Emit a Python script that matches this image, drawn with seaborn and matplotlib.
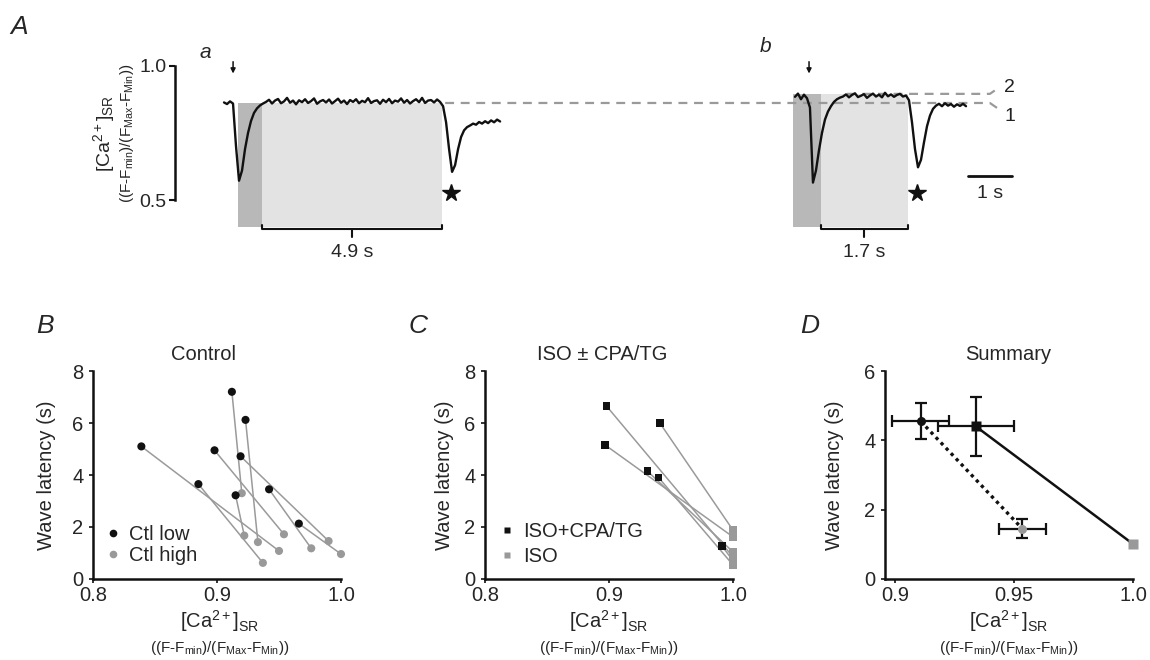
import numpy as np
import pandas as pd
import matplotlib
matplotlib.use("Agg")
import matplotlib.pyplot as plt
import seaborn as sns
from matplotlib.lines import Line2D
from matplotlib.patches import Rectangle

# ---------------- data ----------------
# Panel A: SR Ca traces (time in s, sampled every trace_dt s)
trace_dt = 0.0682
trace_a_t0 = 1.114
trace_a = [0.864, 0.858, 0.868, 0.860, 0.700, 0.572, 0.610, 0.690, 0.750, 0.795,
           0.825, 0.842, 0.853, 0.860,
           0.866, 0.874, 0.860, 0.871, 0.877, 0.861, 0.868, 0.881, 0.863, 0.871,
           0.857, 0.872, 0.865, 0.876, 0.862, 0.869, 0.879, 0.859, 0.868, 0.873,
           0.864, 0.875, 0.860, 0.869, 0.878, 0.863, 0.871, 0.858, 0.873, 0.866,
           0.876, 0.861, 0.870, 0.865, 0.880, 0.862, 0.869, 0.872, 0.859, 0.874,
           0.865, 0.877, 0.861, 0.871, 0.867, 0.879, 0.863, 0.873, 0.860, 0.869,
           0.876, 0.865, 0.881, 0.862, 0.871, 0.873, 0.864, 0.875, 0.866,
           0.850, 0.790, 0.690, 0.605, 0.630, 0.690, 0.735, 0.760, 0.772, 0.778,
           0.785, 0.781, 0.791, 0.785, 0.794, 0.787, 0.797, 0.790, 0.800, 0.793]
trace_b_t0 = 14.09
trace_b = [0.885, 0.897, 0.876, 0.893, 0.880, 0.845, 0.565, 0.610, 0.685, 0.750,
           0.800, 0.830, 0.850, 0.866, 0.876, 0.882,
           0.886, 0.894, 0.883, 0.892, 0.898, 0.884, 0.889, 0.895, 0.881, 0.890,
           0.897, 0.886, 0.893, 0.883, 0.900, 0.887, 0.894, 0.885, 0.892, 0.896,
           0.886, 0.890,
           0.872, 0.790, 0.690, 0.622, 0.650, 0.715, 0.775, 0.815, 0.840, 0.852,
           0.859, 0.850, 0.861, 0.852, 0.858, 0.848, 0.857, 0.851, 0.859, 0.850]
stim_times = [1.32, 14.41]
wave_times = [6.27, 16.86]
dark_spans = [(1.43, 1.98), (14.05, 14.68)]
light_spans = [(1.98, 6.07), (14.68, 16.66)]
span_tops = [0.862, 0.896]
span_bottom = 0.40
latency_labels = ["4.9 s", "1.7 s"]
ref_levels = [0.862, 0.896]
ref_starts = [6.14, 15.27]
ref_names = ["1", "2"]

# Panel B: control pairs
ctl_low_x = [0.839, 0.885, 0.898, 0.912, 0.923, 0.919, 0.915, 0.942, 0.966]
ctl_low_y = [5.10, 3.65, 4.95, 7.20, 6.12, 4.72, 3.22, 3.45, 2.13]
ctl_high_x = [0.950, 0.937, 0.954, 0.920, 0.933, 0.990, 0.922, 0.976, 1.000]
ctl_high_y = [1.08, 0.62, 1.72, 3.30, 1.42, 1.46, 1.67, 1.18, 0.96]

# Panel C: ISO pairs
cpa_x = [0.898, 0.897, 0.931, 0.940, 0.941, 0.991]
cpa_y = [6.65, 5.15, 4.15, 3.90, 6.00, 1.28]
iso_x = [1.000, 1.000, 1.000, 1.000, 1.000, 1.000]
iso_y = [0.85, 1.62, 1.04, 0.54, 1.88, 0.70]

# Panel D: summary (mean +/- SEM)
sum_names = ["Ctl low", "ISO+CPA/TG", "Ctl high", "ISO"]
sum_x = [0.9108, 0.934, 0.9535, 1.000]
sum_y = [4.55, 4.40, 1.45, 1.01]
sum_xerr = [0.0121, 0.0158, 0.0098, 0.0]
sum_yerr = [0.52, 0.86, 0.28, 0.0]

# ---------------- style ----------------
sns.set_theme(style="ticks")
plt.rcParams["font.family"] = ["Liberation Sans", "DejaVu Sans"]
plt.rcParams["mathtext.fontset"] = "custom"
plt.rcParams["mathtext.rm"] = "Liberation Sans"
plt.rcParams["mathtext.it"] = "Liberation Sans:italic"
plt.rcParams["mathtext.bf"] = "Liberation Sans:bold"

BLACK = "#111111"
GRAY = "#999999"
W, H = 1150, 660

fig = plt.figure(figsize=(W / 100, H / 100), dpi=100)


def rect(l, t, r, b):
    return [l / W, 1 - b / H, (r - l) / W, (b - t) / H]


def ftext(x, y, s, **kw):
    fig.text(x / W, 1 - y / H, s, **kw)


# ---------------- Panel A ----------------
axA = fig.add_axes(rect(175, 40, 1050, 270))
px_per_s = 44.0
vmap = lambda py: 1 - (py - 66) / 268.0
axA.set_xlim(0, 875 / px_per_s)
axA.set_ylim(vmap(270), vmap(40))

for (d0, d1), (l0, l1), top in zip(dark_spans, light_spans, span_tops):
    axA.add_patch(Rectangle((d0, span_bottom), d1 - d0, top - span_bottom,
                            facecolor="#b8b8b8", edgecolor="none", zorder=1))
    axA.add_patch(Rectangle((l0, span_bottom), l1 - l0, top - span_bottom,
                            facecolor="#e3e3e3", edgecolor="none", zorder=1))

# dashed reference lines
xr_end = 18.52
for lvl, st, nm, sgn, toff in zip(ref_levels, ref_starts, ref_names, [-1, 1],
                                  [-0.052, 0.022]):
    axA.plot([st, xr_end, xr_end + 0.23], [lvl, lvl, lvl + sgn * 0.026],
             color="#9a9a9a", lw=1.6, ls=(0, (4, 3)), zorder=2)
    axA.text(xr_end + 0.33, lvl + toff, nm, fontsize=14, ha="left",
             va="center", color="#222222")

ta = trace_a_t0 + trace_dt * np.arange(len(trace_a))
tb = trace_b_t0 + trace_dt * np.arange(len(trace_b))
dfA = pd.DataFrame({"t": np.concatenate([ta, tb]),
                    "v": trace_a + trace_b,
                    "trace": ["a"] * len(ta) + ["b"] * len(tb)})
sns.lineplot(data=dfA, x="t", y="v", units="trace", estimator=None, sort=False,
             color=BLACK, lw=1.7, ax=axA, legend=False, zorder=3)

for ts in stim_times:
    axA.annotate("", xy=(ts, 0.972), xytext=(ts, 1.016),
                 arrowprops=dict(arrowstyle="-|>", color=BLACK, lw=1.1,
                                 mutation_scale=7, shrinkA=0, shrinkB=0))
for tw in wave_times:
    axA.plot([tw], [0.526], marker="*", color=BLACK, ms=13, mec=BLACK, clip_on=False)

# brackets
for (l0, l1), lab in zip(light_spans, latency_labels):
    yb = 0.392
    mid = (l0 + l1) / 2
    axA.plot([l0, l0, l1, l1], [yb + 0.014, yb, yb, yb + 0.014], color=BLACK,
             lw=1.5, clip_on=False)
    axA.plot([mid, mid], [yb, yb - 0.03], color=BLACK, lw=1.5, clip_on=False)
    axA.text(mid, 0.305, lab, ha="center", va="center", fontsize=14)

# scale bar 1 s
sb0 = 18.02
axA.plot([sb0, sb0 + 1.0], [0.590, 0.590], color=BLACK, lw=2)
axA.text(sb0 + 0.5, 0.526, "1 s", ha="center", va="center", fontsize=14)

for s in ["top", "right", "bottom"]:
    axA.spines[s].set_visible(False)
axA.spines["left"].set_bounds(0.5, 1.0)
axA.spines["left"].set_linewidth(1.8)
axA.spines["left"].set_color(BLACK)
axA.set_yticks([0.5, 1.0])
axA.set_yticklabels(["0.5", "1.0"], fontsize=14)
axA.tick_params(axis="y", length=4, width=1.5, color=BLACK, pad=2)
axA.set_xticks([])
axA.set_xlabel("")
axA.set_ylabel("")
axA.patch.set_alpha(0)

ftext(19, 27, "A", fontsize=19, style="italic", ha="center", va="center")
ftext(205, 53, "a", fontsize=15, style="italic", ha="center", va="center")
ftext(766, 47, "b", fontsize=15, style="italic", ha="center", va="center")
ftext(104, 133, r"[Ca$^{2+}$]$_\mathrm{SR}$", fontsize=14, rotation=90,
      ha="center", va="center")
ftext(127, 133, r"((F-F$_\mathrm{min}$)/(F$_\mathrm{Max}$-F$_\mathrm{Min}$))",
      fontsize=11, rotation=90, ha="center", va="center")


# ---------------- Panels B-D helpers ----------------
def style_axes(ax, xlim, xticks, xlabels, ylim, yticks):
    sns.despine(ax=ax)
    ax.set_xlim(*xlim)
    ax.set_ylim(*ylim)
    ax.set_xticks(xticks)
    ax.set_xticklabels(xlabels, fontsize=14.5)
    ax.set_yticks(yticks)
    ax.set_yticklabels([str(v) for v in yticks], fontsize=14.5)
    for s in ["left", "bottom"]:
        ax.spines[s].set_linewidth(1.8)
        ax.spines[s].set_color(BLACK)
    ax.tick_params(length=3, width=1.2, color=BLACK, pad=2)
    ax.tick_params(axis="y", pad=4)
    ax.set_xlabel("")
    ax.set_ylabel("")
    ax.patch.set_alpha(0)


YL = r"Wave latency (s)"
XL1 = r"[Ca$^{2+}$]$_\mathrm{SR}$"
XL2 = r"((F-F$_\mathrm{min}$)/(F$_\mathrm{Max}$-F$_\mathrm{Min}$))"

# ---------------- Panel B ----------------
axB = fig.add_axes(rect(93, 371, 341, 579))
rowsB = []
for i in range(len(ctl_low_x)):
    rowsB.append((i, "Ctl low", ctl_low_x[i], ctl_low_y[i]))
    rowsB.append((i, "Ctl high", ctl_high_x[i], ctl_high_y[i]))
dfB = pd.DataFrame(rowsB, columns=["pair", "cond", "x", "y"])
sns.lineplot(data=dfB, x="x", y="y", units="pair", estimator=None, sort=False,
             color="#9a9a9a", lw=1.1, ax=axB, legend=False)
sns.scatterplot(data=dfB, x="x", y="y", hue="cond",
                palette={"Ctl low": BLACK, "Ctl high": GRAY}, s=34,
                edgecolor="none", ax=axB, legend=False, zorder=3, clip_on=False)
style_axes(axB, (0.8, 1.0), [0.8, 0.9, 1.0], ["0.8", "0.9", "1.0"], (0, 8), [0, 2, 4, 6, 8])
hB = [Line2D([], [], ls="none", marker="o", ms=5.5, color=BLACK, mec="none"),
      Line2D([], [], ls="none", marker="o", ms=5.5, color=GRAY, mec="none")]
axB.legend(hB, ["Ctl low", "Ctl high"], loc="center left",
           bbox_to_anchor=(0.04, 0.165), frameon=False, fontsize=14.5,
           handlelength=1.0, handletextpad=0.3, labelspacing=0.1,
           borderpad=0, borderaxespad=0)

# ---------------- Panel C ----------------
axC = fig.add_axes(rect(485, 371, 733, 579))
rowsC = []
for i in range(len(cpa_x)):
    rowsC.append((i, "ISO+CPA/TG", cpa_x[i], cpa_y[i]))
    rowsC.append((i, "ISO", iso_x[i], iso_y[i]))
dfC = pd.DataFrame(rowsC, columns=["pair", "cond", "x", "y"])
sns.lineplot(data=dfC, x="x", y="y", units="pair", estimator=None, sort=False,
             color="#9a9a9a", lw=1.1, ax=axC, legend=False)
sns.scatterplot(data=dfC, x="x", y="y", hue="cond",
                palette={"ISO+CPA/TG": BLACK, "ISO": GRAY}, s=30, marker="s",
                edgecolor="none", ax=axC, legend=False, zorder=3, clip_on=False)
style_axes(axC, (0.8, 1.0), [0.8, 0.9, 1.0], ["0.8", "0.9", "1.0"], (0, 8), [0, 2, 4, 6, 8])
hC = [Line2D([], [], ls="none", marker="s", ms=5, color=BLACK, mec="none"),
      Line2D([], [], ls="none", marker="s", ms=5, color=GRAY, mec="none")]
axC.legend(hC, ["ISO+CPA/TG", "ISO"], loc="center left",
           bbox_to_anchor=(0.05, 0.17), frameon=False, fontsize=14.5,
           handlelength=1.0, handletextpad=0.3, labelspacing=0.3,
           borderpad=0, borderaxespad=0)

# ---------------- Panel D ----------------
axD = fig.add_axes(rect(885, 371, 1133, 579))
axD.plot([sum_x[0], sum_x[2]], [sum_y[0], sum_y[2]], color=BLACK, lw=2.4,
         ls=(0, (1, 1.2)), zorder=2)
sns.lineplot(x=[sum_x[1], sum_x[3]], y=[sum_y[1], sum_y[3]], color=BLACK, lw=1.8,
             ax=axD, zorder=2)
mk = ["o", "s", "o", "s"]
cols = [BLACK, BLACK, GRAY, GRAY]
for i in range(4):
    if sum_xerr[i] > 0 or sum_yerr[i] > 0:
        axD.errorbar(sum_x[i], sum_y[i], xerr=sum_xerr[i], yerr=sum_yerr[i],
                     fmt="none", ecolor=BLACK, elinewidth=1.6, capsize=4,
                     capthick=1.6, zorder=3)
    axD.plot([sum_x[i]], [sum_y[i]], marker=mk[i], color=cols[i], ms=6.5,
             mec="none", zorder=4, clip_on=False)
style_axes(axD, (0.8958, 1.0), [0.9, 0.95, 1.0], ["0.9", "0.95", "1.0"], (0, 6), [0, 2, 4, 6])

# ---------------- Panel labels / titles / axis labels ----------------
for letter, lx, tx, title, ylx, cx in [("B", 45, 204, "Control", 47, 220),
                                        ("C", 418, 602, "ISO \u00b1 CPA/TG", 445, 609),
                                        ("D", 810, 1008, "Summary", 835, 1009)]:
    ftext(lx, 326, letter, fontsize=19, style="italic", ha="center", va="center")
    ftext(tx, 355, title, fontsize=14.5, ha="center", va="center")
    ftext(ylx, 475, YL, fontsize=14.5, rotation=90, ha="center", va="center")
    ftext(cx, 621, XL1, fontsize=14.5, ha="center", va="center")
    ftext(cx, 648, XL2, fontsize=11, ha="center", va="center")

fig.savefig("out.png", dpi=100)
